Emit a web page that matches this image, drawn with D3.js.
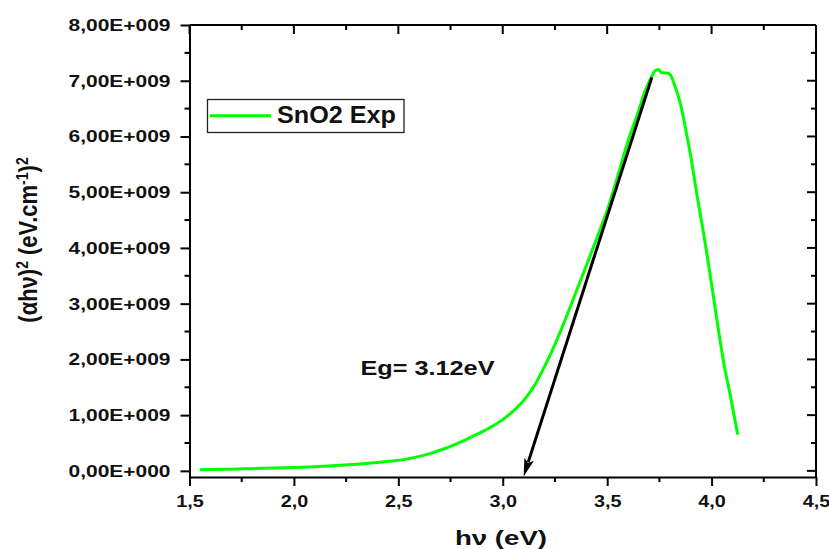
<!DOCTYPE html>
<html>
<head>
<meta charset="utf-8">
<script src="https://cdn.jsdelivr.net/npm/d3@7"></script>
<style>
  html, body { margin: 0; padding: 0; background: #fff; }
  svg { display: block; }
  text { font-family: "Liberation Sans", Arial, sans-serif; font-weight: bold; fill: #111; }
</style>
</head>
<body>
<svg id="chart" width="829" height="549"></svg>
<script>
// ---- data ----
const hv = [1.55, 1.6, 1.7, 1.8, 1.9, 2.0, 2.1, 2.2, 2.3, 2.4, 2.5, 2.55, 2.6, 2.65, 2.7, 2.75, 2.8, 2.85, 2.9, 2.95,
            3.0, 3.05, 3.1, 3.15, 3.2, 3.25, 3.3, 3.35, 3.4, 3.45, 3.5, 3.55, 3.6, 3.65, 3.68, 3.71, 3.73, 3.745,
            3.76, 3.78, 3.8, 3.82, 3.85, 3.88, 3.9, 3.93, 3.96, 4.0, 4.03, 4.06, 4.09, 4.11, 4.125];
const alphaHv2 = [0.02e9, 0.025e9, 0.03e9, 0.04e9, 0.05e9, 0.06e9, 0.075e9, 0.095e9, 0.12e9, 0.15e9, 0.19e9, 0.22e9,
            0.26e9, 0.31e9, 0.37e9, 0.44e9, 0.52e9, 0.61e9, 0.70e9, 0.80e9, 0.92e9, 1.07e9, 1.26e9, 1.52e9, 1.87e9,
            2.27e9, 2.72e9, 3.2e9, 3.68e9, 4.17e9, 4.67e9, 5.28e9, 5.92e9, 6.45e9, 6.8e9, 7.05e9, 7.18e9, 7.2e9,
            7.15e9, 7.14e9, 7.12e9, 6.95e9, 6.6e9, 6.05e9, 5.65e9, 4.95e9, 4.3e9, 3.35e9, 2.6e9, 1.9e9, 1.35e9,
            0.95e9, 0.65e9];
const tangentX = [3.714, 3.10];
const tangentY = [7.06e9, -0.1e9];
const xTicks = [1.5, 2.0, 2.5, 3.0, 3.5, 4.0, 4.5];
const xTickLabels = ["1,5", "2,0", "2,5", "3,0", "3,5", "4,0", "4,5"];
const yTicks = [0, 1e9, 2e9, 3e9, 4e9, 5e9, 6e9, 7e9, 8e9];
const yTickLabels = ["0,00E+000", "1,00E+009", "2,00E+009", "3,00E+009", "4,00E+009",
                     "5,00E+009", "6,00E+009", "7,00E+009", "8,00E+009"];
const seriesName = "SnO2 Exp";
const annotation = "Eg= 3.12eV";

// ---- layout ----
const L = 189.5, R = 816, T = 25, B = 477;
const svg = d3.select("#chart");
const x = d3.scaleLinear().domain([1.5, 4.5]).range([L, R]);
const y = d3.scaleLinear().domain([-0.11e9, 8e9]).range([B, T]);
const green = "#00ff00";

const xMinor = d3.range(1.75, 4.5, 0.5);
const yMinor = d3.range(0.5e9, 8e9, 1e9);

// frame top/right
svg.append("line").attr("x1", L).attr("x2", R).attr("y1", T).attr("y2", T).attr("stroke", "#000").attr("stroke-width", 2);
svg.append("line").attr("x1", R).attr("x2", R).attr("y1", T).attr("y2", B).attr("stroke", "#000").attr("stroke-width", 2);

// bottom axis
const gx = svg.append("g").attr("transform", `translate(0,${B})`)
  .call(d3.axisBottom(x).tickValues(xTicks).tickFormat((d, i) => xTickLabels[i]).tickSize(9).tickSizeOuter(0));
gx.select(".domain").attr("stroke-width", 2);
gx.selectAll(".tick line").attr("stroke-width", 2);
gx.selectAll(".tick text").attr("y", 30).attr("dy", 0).attr("font-size", 17)
  .attr("textLength", 27.5).attr("lengthAdjust", "spacingAndGlyphs")
  .style("font-family", "'Liberation Sans', Arial, sans-serif").style("font-weight", "bold").attr("fill", "#111");
gx.selectAll(".minor").data(xMinor).enter().append("line")
  .attr("x1", d => x(d)).attr("x2", d => x(d)).attr("y1", 0).attr("y2", 5)
  .attr("stroke", "#000").attr("stroke-width", 2);

// top ticks (inward)
const gt = svg.append("g").attr("transform", `translate(0,${T})`);
gt.selectAll(".maj").data(xTicks).enter().append("line")
  .attr("x1", d => x(d)).attr("x2", d => x(d)).attr("y1", 0).attr("y2", 9).attr("stroke", "#000").attr("stroke-width", 2);
gt.selectAll(".min").data(xMinor).enter().append("line")
  .attr("x1", d => x(d)).attr("x2", d => x(d)).attr("y1", 0).attr("y2", 5).attr("stroke", "#000").attr("stroke-width", 2);

// left axis
const gy = svg.append("g").attr("transform", `translate(${L},0)`)
  .call(d3.axisLeft(y).tickValues(yTicks).tickFormat((d, i) => yTickLabels[i]).tickSize(9).tickSizeOuter(0));
gy.select(".domain").attr("stroke-width", 2);
gy.selectAll(".tick line").attr("stroke-width", 2);
gy.selectAll(".tick text").attr("x", -19).attr("font-size", 17)
  .attr("textLength", 102).attr("lengthAdjust", "spacingAndGlyphs")
  .style("font-family", "'Liberation Sans', Arial, sans-serif").style("font-weight", "bold").attr("fill", "#111");
gy.selectAll(".minor").data(yMinor).enter().append("line")
  .attr("x1", 0).attr("x2", -5).attr("y1", d => y(d)).attr("y2", d => y(d))
  .attr("stroke", "#000").attr("stroke-width", 2);

// right ticks (inward)
const gr = svg.append("g").attr("transform", `translate(${R},0)`);
gr.selectAll(".maj").data(yTicks).enter().append("line")
  .attr("x1", 0).attr("x2", -9).attr("y1", d => y(d)).attr("y2", d => y(d)).attr("stroke", "#000").attr("stroke-width", 2);
gr.selectAll(".min").data(yMinor).enter().append("line")
  .attr("x1", 0).attr("x2", -5).attr("y1", d => y(d)).attr("y2", d => y(d)).attr("stroke", "#000").attr("stroke-width", 2);

// curve
const pts = hv.map((d, i) => [d, alphaHv2[i]]);
svg.append("path").datum(pts)
  .attr("d", d3.line().x(d => x(d[0])).y(d => y(d[1])).curve(d3.curveCatmullRom.alpha(0.5)))
  .attr("fill", "none").attr("stroke", green).attr("stroke-width", 3).attr("stroke-linejoin", "round");

// tangent arrow
const x1 = x(tangentX[0]), y1 = y(tangentY[0]), x2 = x(tangentX[1]), y2 = y(tangentY[1]);
const ang = Math.atan2(y2 - y1, x2 - x1);
const headLen = 18, headW = 5;
const bx = x2 - headLen * Math.cos(ang), by = y2 - headLen * Math.sin(ang);
svg.append("line").attr("x1", x1).attr("y1", y1).attr("x2", bx + 3 * Math.cos(ang)).attr("y2", by + 3 * Math.sin(ang))
  .attr("stroke", "#000").attr("stroke-width", 3);
const px = -Math.sin(ang), py = Math.cos(ang);
svg.append("path")
  .attr("d", `M${x2},${y2}L${bx + headW * px},${by + headW * py}L${bx + 4 * Math.cos(ang)},${by + 4 * Math.sin(ang)}L${bx - headW * px},${by - headW * py}Z`)
  .attr("fill", "#000");

// legend
svg.append("rect").attr("x", 207.5).attr("y", 99.5).attr("width", 196.5).attr("height", 33)
  .attr("fill", "#fff").attr("stroke", "#222").attr("stroke-width", 1.3);
svg.append("line").attr("x1", 210).attr("x2", 271).attr("y1", 115.7).attr("y2", 115.7)
  .attr("stroke", green).attr("stroke-width", 3);
svg.append("text").attr("x", 277).attr("y", 123.3).attr("font-size", 23)
  .attr("textLength", 119).attr("lengthAdjust", "spacingAndGlyphs").text(seriesName);

// annotation
svg.append("text").attr("x", 360.5).attr("y", 375).attr("font-size", 21)
  .attr("textLength", 134).attr("lengthAdjust", "spacingAndGlyphs").text(annotation);

// x title
svg.append("text").attr("x", 455).attr("y", 545).attr("font-size", 21)
  .attr("textLength", 92).attr("lengthAdjust", "spacingAndGlyphs").text("h\u03bd (eV)");

// y title
const yt = svg.append("text").attr("transform", "translate(37,240) scale(1.15,1) rotate(-90)")
  .attr("text-anchor", "middle").attr("font-size", 22);
yt.append("tspan").text("(\u03b1h\u03bd)");
yt.append("tspan").attr("baseline-shift", "super").attr("font-size", 14).text("2");
yt.append("tspan").text(" (eV.cm");
yt.append("tspan").attr("baseline-shift", "super").attr("font-size", 14).text("-1");
yt.append("tspan").text(")");
yt.append("tspan").attr("baseline-shift", "super").attr("font-size", 14).text("2");
</script>
</body>
</html>
